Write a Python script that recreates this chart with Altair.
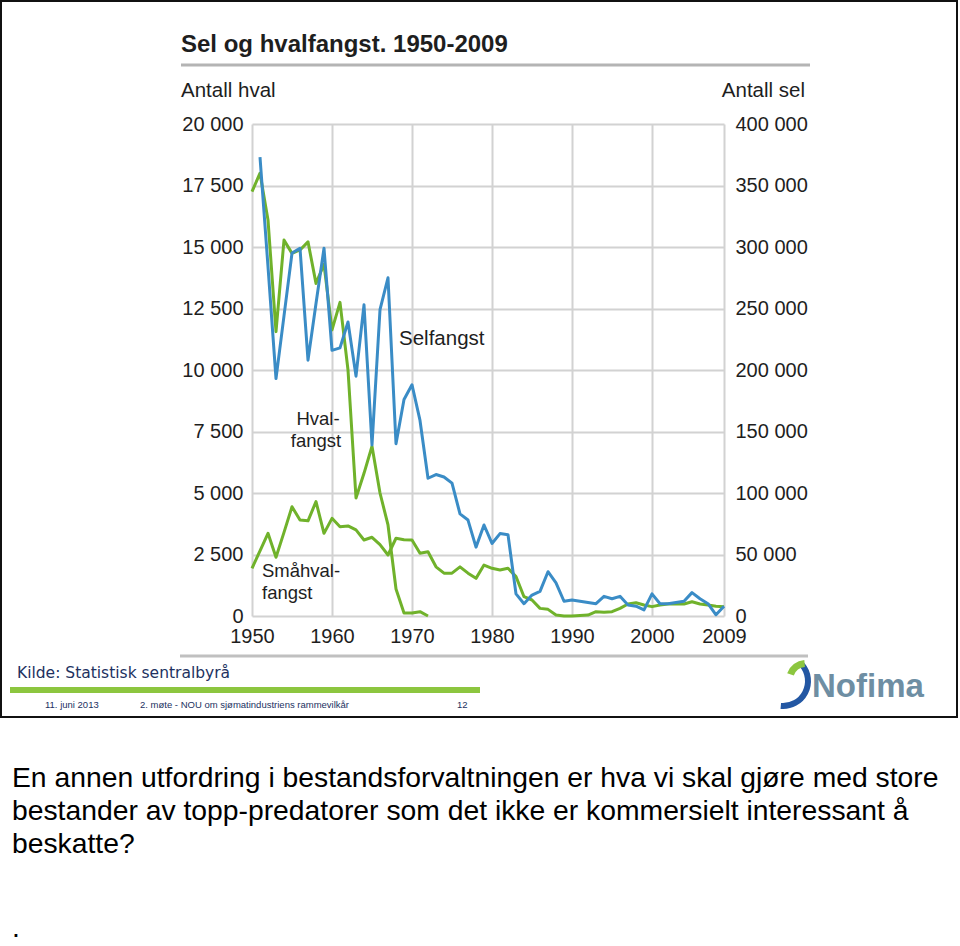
import altair as alt
import pandas as pd

# ---------------- data ----------------
years_sel = list(range(1951, 2010))
selfangst = [373000, 284000, 193000, 244000, 295000, 299000, 208000, 254000, 299000, 216000,
             218000, 239000, 195000, 253000, 139000, 249000, 275000, 140000, 176000, 188000,
             159000, 112000, 115000, 113000, 108000, 83000, 78000, 56000, 74000, 59000,
             67000, 66000, 18000, 10000, 17000, 20000, 36000, 27000, 12000, 13000,
             12000, 11000, 10000, 16000, 14000, 16000, 9000, 8000, 5000, 18000,
             10000, 10000, 11000, 12000, 19000, 14000, 10000, 1000, 8000]

years_hval = list(range(1950, 1973))
hvalfangst = [17250, 18000, 16100, 11560, 15280, 14740, 14880, 15210, 13520, 14300,
              11630, 12750, 10000, 4800, 5800, 6900, 5000, 3700, 1100, 120,
              120, 175, 0]

years_smahval = list(range(1950, 2010))
smahvalfangst = [1940, 2650, 3360, 2390, 3400, 4440, 3900, 3870, 4650, 3360,
                 3970, 3630, 3660, 3500, 3090, 3200, 2900, 2480, 3160, 3100,
                 3090, 2550, 2610, 2000, 1740, 1740, 2000, 1740, 1530, 2070,
                 1940, 1870, 1940, 1600, 785, 650, 310, 270, 40, 0,
                 0, 20, 40, 175, 150, 175, 310, 490, 540, 450,
                 380, 450, 490, 490, 490, 580, 490, 450, 400, 380]

x_ticks = [1950, 1960, 1970, 1980, 1990, 2000, 2009]
left_ticks = list(range(0, 20001, 2500))
right_ticks = list(range(0, 400001, 50000))

paragraph = [
    "En annen utfordring i bestandsforvaltningen er hva vi skal gjøre med store",
    "bestander av topp-predatorer som det ikke er kommersielt interessant å",
    "beskatte?",
]

# ---------------- styling ----------------
OX, OY = 252, 124          # plot origin on the page
W, H = 472, 492
FONT = "Liberation Sans"
GREEN = "#70b22b"
BLUE = "#3a8cc6"
TXT = "#1e1e1e"
GRID = "#d2d2d2"
NAVY = "#22315f"

green_df = pd.DataFrame({
    "year": years_hval + years_smahval,
    "value": hvalfangst + smahvalfangst,
    "serie": ["Hvalfangst"] * len(years_hval) + ["Småhvalfangst"] * len(years_smahval),
})
blue_df = pd.DataFrame({"year": years_sel, "value": selfangst})
dummy = pd.DataFrame({"a": [0]})

space_fmt = "replace(format(datum.value, ','), ',', ' ')"

xscale = alt.Scale(domain=[1950, 2009], nice=False, zero=False)
xaxis = alt.Axis(values=x_ticks, format="d", title=None, grid=True, gridColor=GRID,
                 gridWidth=2, domain=False, ticks=False, labelFont=FONT, labelFontSize=20,
                 labelColor=TXT, labelPadding=10, labelFlush=False, labelBaseline="top")

green = alt.Chart(green_df).mark_line(color=GREEN, strokeWidth=3, strokeJoin="round").encode(
    x=alt.X("year:Q", scale=xscale, axis=xaxis),
    y=alt.Y("value:Q", scale=alt.Scale(domain=[0, 20000], nice=False, zero=True),
            axis=alt.Axis(orient="left", values=left_ticks, labelExpr=space_fmt, title=None,
                          grid=True, gridColor=GRID, gridWidth=2, domain=False, ticks=False,
                          labelFont=FONT, labelFontSize=20, labelColor=TXT, labelPadding=9)),
    detail="serie:N",
)

blue = alt.Chart(blue_df).mark_line(color=BLUE, strokeWidth=3, strokeJoin="round").encode(
    x=alt.X("year:Q", scale=xscale, axis=xaxis),
    y=alt.Y("value:Q", scale=alt.Scale(domain=[0, 400000], nice=False, zero=True),
            axis=alt.Axis(orient="right", values=right_ticks, labelExpr=space_fmt, title=None,
                          grid=False, domain=False, ticks=False, labelFont=FONT,
                          labelFontSize=20, labelColor=TXT, labelPadding=11)),
)


def txt(s, x, y, size=20.5, weight="normal", align="left", color=TXT, font=FONT,
        baseline="middle"):
    return alt.Chart(dummy).mark_text(
        align=align, baseline=baseline, fontSize=size, fontWeight=weight,
        color=color, font=font,
    ).encode(x=alt.value(x - OX), y=alt.value(y - OY), text=alt.value(s))


def rule(x1, x2, y, color, width):
    return alt.Chart(dummy).mark_rule(color=color, strokeWidth=width).encode(
        x=alt.value(x1 - OX), x2=alt.value(x2 - OX), y=alt.value(y - OY))


def rect(x1, y1, x2, y2, **kw):
    return alt.Chart(dummy).mark_rect(**kw).encode(
        x=alt.value(x1 - OX), x2=alt.value(x2 - OX),
        y=alt.value(y1 - OY), y2=alt.value(y2 - OY))


def arc(cx, cy, r1, r2, t1, t2, color):
    return alt.Chart(dummy).mark_arc(
        theta=t1, theta2=t2, radius=r2, radius2=r1, color=color
    ).encode(x=alt.value(cx - OX), y=alt.value(cy - OY))


layers = [
    green, blue,
    # chart texts
    txt("Sel og hvalfangst. 1950-2009", 181, 45, size=24, weight="bold"),
    rule(181, 810, 65, "#b4b4b4", 3),
    txt("Antall hval", 181, 91),
    txt("Antall sel", 805, 91, align="right"),
    txt("Selfangst", 399, 339),
    txt("Hval-", 318, 419, size=18.5, align="center"),
    txt("fangst", 316, 441, size=18.5, align="center"),
    txt("Småhval-", 262, 571, size=18.5),
    txt("fangst", 262, 593, size=18.5),
    # slide footer
    rule(180, 808, 656, "#c0c0c0", 3),
    txt("Kilde: Statistisk sentralbyrå", 17, 673, size=15.5, color=NAVY, font="DejaVu Sans"),
    rect(10, 687, 480, 693, color="#8cc63f"),
    txt("11. juni 2013", 45, 705, size=9.5, color=NAVY),
    txt("2. møte - NOU om sjømatindustriens rammevilkår", 140, 705, size=9.5, color=NAVY),
    txt("12", 457, 705, size=9.5, color=NAVY),
    arc(783, 681, 22, 28, 0.87, 3.23, "#2357a3"),
    arc(806, 680, 13, 20, 5.06, 6.2, "#8cc63f"),
    txt("Nofima", 812, 697, size=33, weight="bold", color="#6e8ea3", baseline="alphabetic"),
    rect(1, 1, 957, 717, fill="transparent", stroke="#111111", strokeWidth=2),
    # paragraph under the slide
    txt(paragraph[0], 12, 787, size=28.3, color="#000000", baseline="alphabetic"),
    txt(paragraph[1], 12, 820, size=28.3, color="#000000", baseline="alphabetic"),
    txt(paragraph[2], 12, 853, size=28.3, color="#000000", baseline="alphabetic"),
    txt(".", 12, 937, size=28.3, color="#000000", baseline="alphabetic"),
]

chart = alt.layer(*layers).resolve_scale(y="independent").properties(
    width=W, height=H,
    autosize=alt.AutoSizeParams(type="none"),
    padding={"left": OX, "top": OY, "right": 960 - OX - W, "bottom": 946 - OY - H},
    background="white",
).configure_view(strokeWidth=0)

chart.save("out.html", embed_options={"renderer": "svg", "actions": False})
